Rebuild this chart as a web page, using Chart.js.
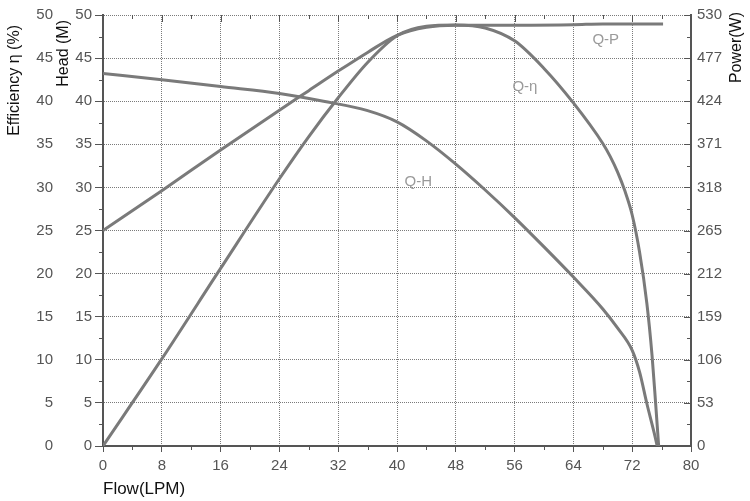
<!DOCTYPE html>
<html>
<head>
<meta charset="utf-8">
<script src="https://cdn.jsdelivr.net/npm/chart.js@4.4.1/dist/chart.umd.min.js"></script>
<style>
  html, body { margin: 0; padding: 0; background: #fff; }
  #wrap { width: 750px; height: 501px; }
</style>
</head>
<body>
<div id="wrap"><canvas id="pumpChart" width="750" height="501"></canvas></div>
<script>
// Axis ticks
const flowTicks = [0, 8, 16, 24, 32, 40, 48, 56, 64, 72, 80];
const leftTicks = [0, 5, 10, 15, 20, 25, 30, 35, 40, 45, 50];
const powerTicks = [0, 53, 106, 159, 212, 265, 318, 371, 424, 477, 530];

// Q-H curve (head, M)
const headFlow = [0, 8, 16, 24, 30, 36, 40, 44, 48, 52, 56, 60, 64, 68, 70, 72, 73, 74, 75, 75.4];
const headValues = [43.2, 42.5, 41.7, 40.9, 40.0, 38.9, 37.6, 35.4, 32.7, 29.7, 26.5, 23.1, 19.6, 15.9, 13.7, 11.1, 8.6, 4.9, 1.5, 0];

// Q-η curve (efficiency, %)
const effFlow = [0, 8, 16, 24, 28, 32, 36, 40, 44, 48, 52, 56, 60, 64, 68, 69, 70, 71, 72, 73, 74, 74.7, 75.2, 75.6];
const effValues = [0, 10.1, 20.6, 31.0, 35.9, 40.4, 44.5, 47.6, 48.7, 48.85, 48.5, 47.0, 43.8, 39.8, 35.1, 33.6, 31.8, 29.6, 26.8, 22.5, 16.5, 10.5, 4.8, 0];

// Q-P curve (power, W)
const powerFlow = [0, 8, 16, 24, 28, 32, 36, 40, 44, 48, 56, 64, 68, 76.2];
const powerValues = [265, 314, 364, 413, 437, 461, 484, 505, 515, 517.5, 517.5, 518, 519, 519];

const fontFamily = '"Liberation Sans", Arial, sans-serif';
const tickFont = { family: fontFamily, size: 15 };
const gridColor = '#7a7a7a';
const axisColor = '#555';

// where the curve names sit (flow, value, axis)
const curveTags = [
  { text: 'Q-H', x: 42.9, y: 30.6, axis: 'yHead' },
  { text: 'Q-η', x: 57.4, y: 41.7, axis: 'yEff' },
  { text: 'Q-P', x: 68.4, y: 500, axis: 'yPow' }
];

function toPoints(xs, ys) {
  return xs.map((x, i) => ({ x: x, y: ys[i] }));
}

const lineStyle = {
  borderColor: '#7a7a7a',
  borderWidth: 3,
  pointRadius: 0,
  fill: false,
  cubicInterpolationMode: 'monotone'
};

// minor ticks, vertical titles and curve names
const decorPlugin = {
  id: 'decor',
  afterDraw(chart) {
    const ctx = chart.ctx;
    const area = chart.chartArea;
    const x = chart.scales.x;
    const yHead = chart.scales.yHead;
    const yPow = chart.scales.yPow;

    ctx.save();
    ctx.strokeStyle = axisColor;
    ctx.lineWidth = 1;
    ctx.beginPath();
    // x axis: minor ticks below, ticks along top edge
    for (let v = 0; v <= 80; v += 4) {
      const px = Math.round(x.getPixelForValue(v)) + 0.5;
      if (v % 8 !== 0) {
        ctx.moveTo(px, area.bottom);
        ctx.lineTo(px, area.bottom + 4);
      }
      ctx.moveTo(px, area.top);
      ctx.lineTo(px, area.top + (v % 8 === 0 ? 7 : 4));
    }
    // left axis minor ticks
    for (let v = 2.5; v < 50; v += 5) {
      const py = Math.round(yHead.getPixelForValue(v)) + 0.5;
      ctx.moveTo(area.left - 4, py);
      ctx.lineTo(area.left, py);
    }
    // right axis inward ticks
    for (let v = 0; v <= 530; v += 26.5) {
      const py = Math.round(yPow.getPixelForValue(v)) + 0.5;
      const major = Math.round(v / 26.5) % 2 === 0;
      ctx.moveTo(area.right, py);
      ctx.lineTo(area.right - (major ? 7 : 4), py);
    }
    ctx.stroke();

    // vertical axis titles
    ctx.fillStyle = '#111';
    ctx.font = '16px ' + fontFamily;
    ctx.textBaseline = 'middle';
    const vTitle = (text, cx, topY) => {
      ctx.save();
      ctx.translate(cx, topY);
      ctx.rotate(-Math.PI / 2);
      ctx.textAlign = 'right';
      ctx.fillText(text, 0, 0);
      ctx.restore();
    };
    vTitle('Efficiency η (%)', 15, 25);
    vTitle('Head (M)', 64, 20);
    vTitle('Power(W)', 737, 12);

    // curve names
    ctx.fillStyle = '#9a9a9a';
    ctx.font = '15px ' + fontFamily;
    ctx.textAlign = 'center';
    curveTags.forEach(t => {
      const sc = chart.scales[t.axis];
      ctx.fillText(t.text, x.getPixelForValue(t.x), sc.getPixelForValue(t.y));
    });
    ctx.restore();
  }
};

const ctx = document.getElementById('pumpChart').getContext('2d');
const pumpChart = new Chart(ctx, {
  type: 'line',
  data: {
    datasets: [
      Object.assign({ label: 'Q-H', data: toPoints(headFlow, headValues), yAxisID: 'yHead' }, lineStyle),
      Object.assign({ label: 'Q-η', data: toPoints(effFlow, effValues), yAxisID: 'yEff' }, lineStyle),
      Object.assign({ label: 'Q-P', data: toPoints(powerFlow, powerValues), yAxisID: 'yPow' }, lineStyle)
    ]
  },
  options: {
    responsive: false,
    animation: false,
    layout: { padding: { top: 10, left: 0, right: 0, bottom: 0 } },
    plugins: {
      legend: { display: false },
      tooltip: { enabled: false }
    },
    scales: {
      x: {
        type: 'linear',
        min: 0,
        max: 80,
        afterBuildTicks: s => { s.ticks = flowTicks.map(v => ({ value: v })); },
        afterFit: s => { s.height = 55; },
        grid: { color: gridColor, tickColor: axisColor, tickLength: 6 },
        border: { color: axisColor, width: 2, dash: [1, 1] },
        ticks: { color: axisColor, font: tickFont, padding: 5, maxRotation: 0 },
        title: {
          display: true,
          text: 'Flow(LPM)',
          align: 'start',
          color: '#111',
          font: { family: fontFamily, size: 17 },
          padding: { top: 0, bottom: 1 }
        }
      },
      yEff: {
        type: 'linear',
        position: 'left',
        weight: 2,
        min: 0,
        max: 50,
        afterBuildTicks: s => { s.ticks = leftTicks.map(v => ({ value: v })); },
        afterFit: s => { s.width = 54; },
        grid: { display: false, drawTicks: false, tickLength: 0 },
        border: { display: false },
        ticks: { color: axisColor, font: tickFont, padding: 1 }
      },
      yHead: {
        type: 'linear',
        position: 'left',
        weight: 1,
        min: 0,
        max: 50,
        afterBuildTicks: s => { s.ticks = leftTicks.map(v => ({ value: v })); },
        afterFit: s => { s.width = 49; },
        grid: { color: gridColor, tickColor: axisColor, tickLength: 8 },
        border: { color: axisColor, width: 2, dash: [1, 1] },
        ticks: { color: axisColor, font: tickFont, padding: 3 }
      },
      yPow: {
        type: 'linear',
        position: 'right',
        min: 0,
        max: 530,
        afterBuildTicks: s => { s.ticks = powerTicks.map(v => ({ value: v })); },
        afterFit: s => { s.width = 59; },
        grid: { display: false, drawTicks: false, tickLength: 0 },
        border: { display: true, color: axisColor, width: 2 },
        ticks: { color: axisColor, font: tickFont, padding: 6 }
      }
    }
  },
  plugins: [decorPlugin]
});
</script>
</body>
</html>
